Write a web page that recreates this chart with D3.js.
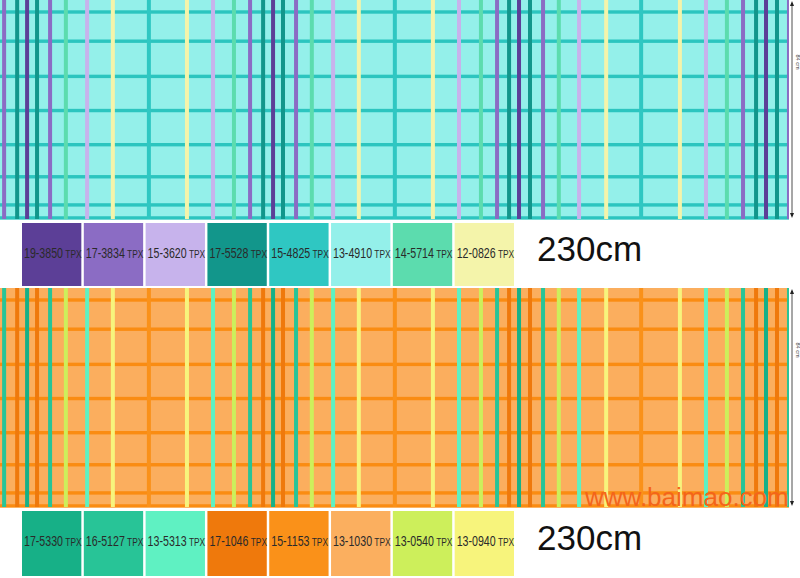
<!DOCTYPE html>
<html><head><meta charset="utf-8">
<script src="https://cdn.jsdelivr.net/npm/d3@7"></script>
<style>html,body{margin:0;padding:0;background:#fff;}svg{display:block;}</style>
</head><body><svg id="c" width="800" height="578"></svg>
<script>
// ---------- data ----------
const topCodes = ["19-3850","17-3834","15-3620","17-5528","15-4825","13-4910","14-5714","12-0826"];
const topColors = ["#5c3f97","#8b6cc4","#c7b3ec","#12968b","#2fc7c2","#94f0ea","#5cdcae","#f4f4aa"];
const botCodes = ["17-5330","16-5127","13-5313","17-1046","15-1153","13-1030","13-0540","13-0940"];
const botColors = ["#17b087","#28c497","#5ff1c2","#ef790c","#fa9119","#fbaf5f","#cdef5b","#f7f47c"];
// vertical stripe positions (cm across 230 cm width) and colour index into palettes
const warpPos = [1.2,5.0,7.9,10.8,14.6,19.2,25.4,32.9,43.4,54.5,62.1,68.2,72.9,76.7,79.6,82.5,86.3,90.9,97.1,104.6,115.1,126.2,133.8,140.2,144.9,148.4,151.3,154.5,158.3,162.9,168.8,176.7,186.9,198.2,205.8,211.9,216.6,220.4,223.3,226.5,229.7];
const warpColor = [1,3,0,3,1,6,2,7,4,7,2,6,1,3,0,3,1,6,2,7,4,7,2,6,1,3,0,3,1,6,2,7,4,7,2,6,1,3,0,3,1];
// horizontal stripe positions (cm down 84 cm height)
const weftPos = [4.6,15.8,29.3,42.4,55.5,67.8,78.6,83.6];
const widthLabel = "230cm";
const heightLabel = "84 cm";
const watermark = "www.baimao.com";

// ---------- drawing ----------
const svg = d3.select("#c");
const x = d3.scaleLinear().domain([0,230]).range([0,789]);
const band = d3.scaleBand().domain(d3.range(8)).range([22,514]).paddingInner(0.04);

function panel(y0, y1, colors, bg, weftCol) {
  const y = d3.scaleLinear().domain([0,84]).range([y0,y1]);
  const g = svg.append("g");
  g.append("rect").attr("x",x(0)).attr("y",y(0)).attr("width",x(230)-x(0)).attr("height",y(84)-y(0)).attr("fill",bg);
  g.selectAll(".h").data(weftPos).join("rect")
    .attr("x",x(0)).attr("width",x(230)-x(0))
    .attr("y",d=>y(d)-1.7).attr("height",3.4).attr("fill",weftCol);
  g.selectAll(".v").data(warpPos).join("rect")
    .attr("x",(d,i)=> i===warpPos.length-1 ? x(d)-1 : x(d)-2)
    .attr("width",(d,i)=> i===warpPos.length-1 ? 2 : 4)
    .attr("y",y(0)).attr("height",y(84)-y(0))
    .attr("fill",(d,i)=>colors[warpColor[i]]);
  const ax = 792;
  g.append("line").attr("x1",ax).attr("x2",ax).attr("y1",y(0)+3).attr("y2",y(84)-3)
    .attr("stroke","#222").attr("stroke-width",0.8);
  g.append("path").attr("d",`M${ax-2},${y(0)+6}L${ax},${y(0)+1}L${ax+2},${y(0)+6}Z`).attr("fill","#222");
  g.append("path").attr("d",`M${ax-2},${y(84)-6}L${ax},${y(84)-1}L${ax+2},${y(84)-6}Z`).attr("fill","#222");
  g.append("text").attr("transform",`translate(796,${y(0)+62}) rotate(90)`)
    .attr("font-family","Liberation Sans, Arial, sans-serif").attr("font-size",5.5)
    .attr("text-anchor","middle").attr("fill","#333").text(heightLabel);
}

function swatches(yTop, h, codes, cols, baseY) {
  const g = svg.append("g");
  g.selectAll("rect").data(codes).join("rect")
    .attr("x",(d,i)=>band(i)).attr("y",yTop).attr("width",band.bandwidth()).attr("height",h)
    .attr("fill",(d,i)=>cols[i]);
  const t = g.selectAll("text").data(codes).join("text")
    .attr("transform",(d,i)=>`translate(${band(i)+2},${baseY}) scale(0.76,1)`)
    .attr("font-family","Liberation Sans, Arial, sans-serif").attr("fill","#2a2a2a");
  t.append("tspan").attr("font-size",14).text(d=>d);
  t.append("tspan").attr("font-size",11).attr("dx",3).text("TPX");
}

panel(0,219,topColors,"#94f0ea","#2cc5bf");
panel(288,507,botColors,"#fbae5e","#fa8c12");
swatches(223,63,topCodes,topColors,258);
swatches(511,65,botCodes,botColors,546);

svg.selectAll(".dim").data([261,550]).join("text")
  .attr("x",537).attr("y",d=>d).attr("font-family","Liberation Sans, Arial, sans-serif")
  .attr("font-size",35).attr("fill","#111").text(widthLabel);

svg.append("text").attr("x",585).attr("y",506).attr("font-family","Liberation Sans, Arial, sans-serif")
  .attr("font-size",26).attr("fill","#f4641a").text(watermark);
</script></body></html>
